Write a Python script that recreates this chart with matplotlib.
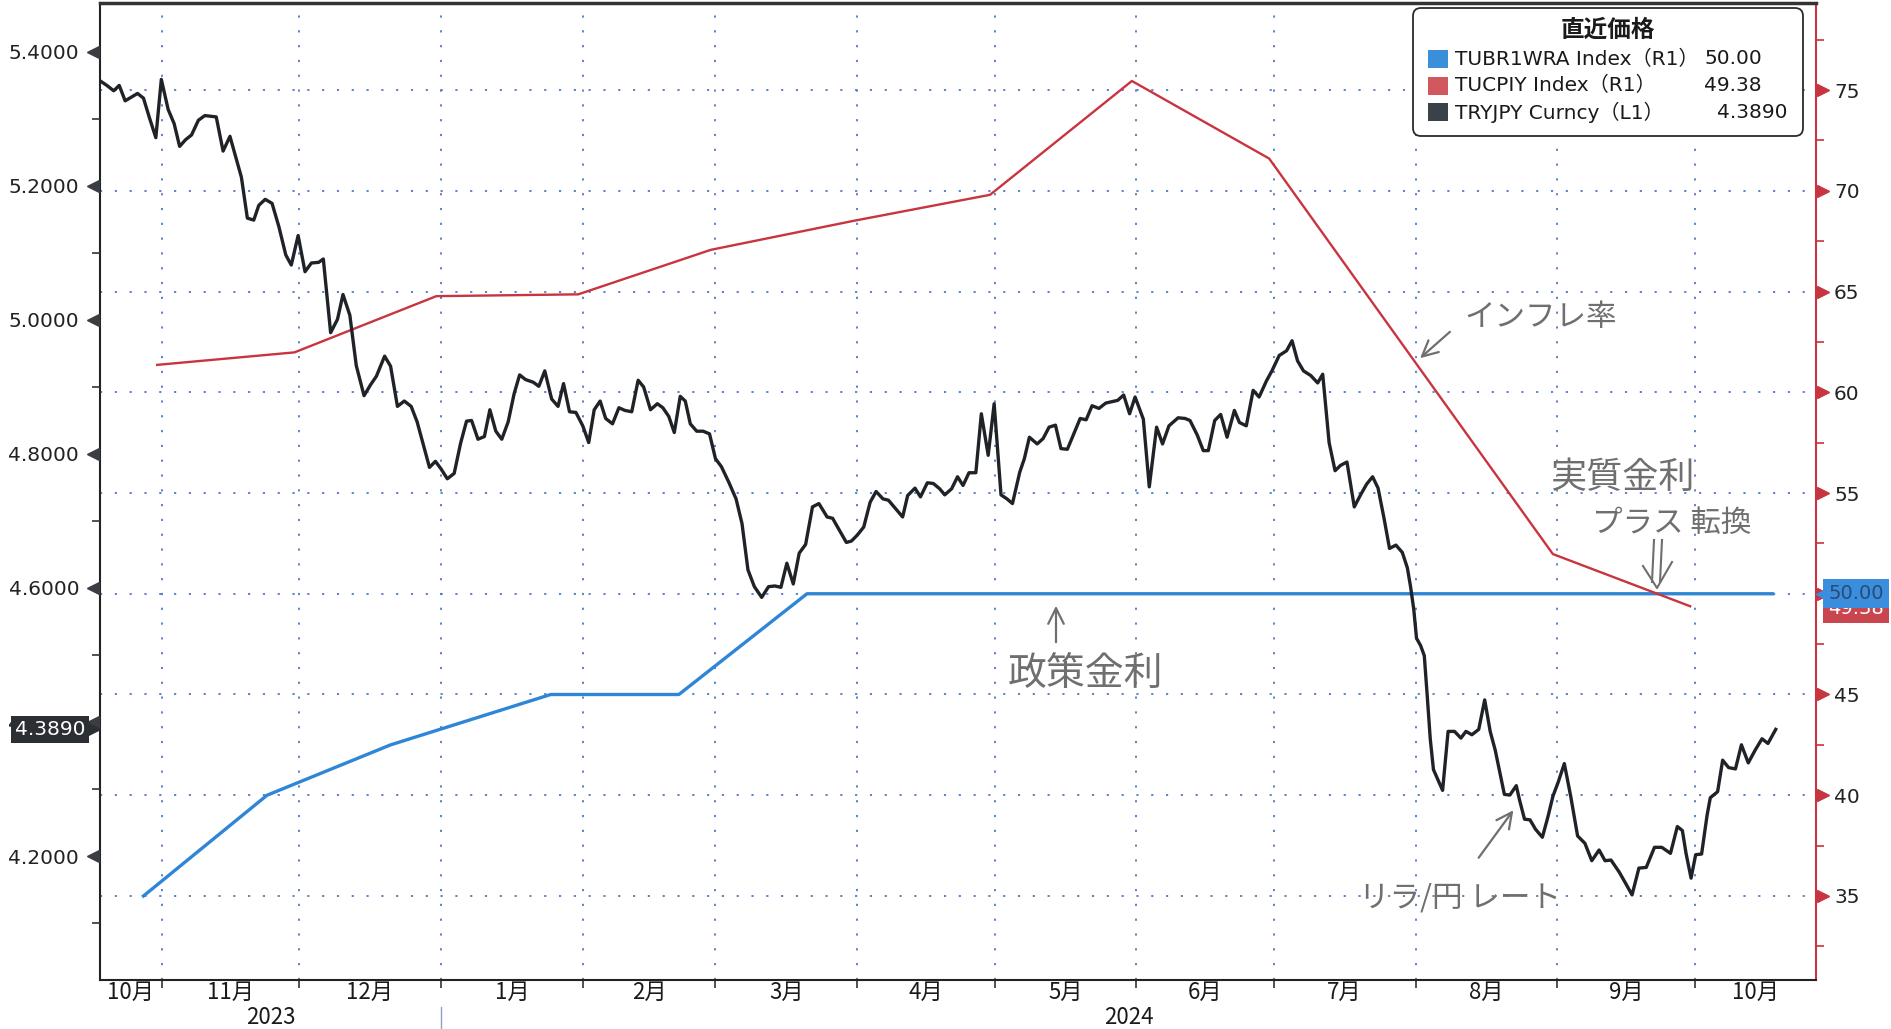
import matplotlib
matplotlib.use('Agg')
import matplotlib.pyplot as plt
import matplotlib.dates as mdates
import matplotlib.transforms as mtransforms
from matplotlib.patches import FancyBboxPatch, Rectangle
from matplotlib.ticker import (MultipleLocator, FormatStrFormatter, FixedLocator,
                               FixedFormatter, NullFormatter)
import numpy as np

plt.rcParams['font.family'] = ['DejaVu Sans', 'Noto Sans CJK JP']

# TUBR1WRA Index (policy rate, R1)
rate_dates = ['2023-10-28', '2023-11-24', '2023-12-21', '2024-01-25',
              '2024-02-22', '2024-03-21', '2024-10-18']
rate_vals = [35.0, 40.0, 42.5, 45.0, 45.0, 50.0, 50.0]

# TUCPIY Index (CPI yoy, R1), month end
cpi_dates = ['2023-10-31', '2023-11-30', '2023-12-31', '2024-01-31', '2024-02-29',
             '2024-03-31', '2024-04-30', '2024-05-31', '2024-06-30', '2024-07-31',
             '2024-08-31', '2024-09-30']
cpi_vals = [61.36, 61.98, 64.77, 64.86, 67.07, 68.50, 69.80, 75.45, 71.60, 61.78,
            51.97, 49.38]

# TRYJPY Curncy (L1), x = days from 2023-11-01
fx_base = '2023-11-01'
fx_day = [
    -13.3, -12.0, -10.5, -9.3, -8.0, -5.3, -4.0, -2.8, -1.3, -0.1,
    1.4, 2.7, 3.9, 5.2, 6.5, 8.0, 9.4, 11.9, 13.4, 14.9,
    16.1, 17.4, 18.7, 20.1, 21.2, 22.6, 24.1, 25.6, 27.1, 28.3,
    29.8, 31.3, 32.7, 34.3, 35.3, 36.9, 38.4, 39.6, 41.1, 42.5,
    44.2, 45.6, 46.9, 48.7, 50.0, 51.5, 53.0, 54.5, 55.8, 57.2,
    58.5, 59.8, 61.0, 62.4, 63.9, 65.3, 66.6, 67.7, 69.1, 70.5,
    71.7, 73.0, 74.3, 75.7, 77.0, 78.2, 79.5, 81.2, 82.4, 83.7,
    85.2, 86.6, 87.8, 89.1, 90.5, 92.0, 93.3, 94.5, 95.8, 97.0,
    98.5, 99.9, 101.2, 102.7, 104.1, 105.3, 106.8, 108.3, 109.5, 110.8,
    112.0, 113.3, 114.4, 115.5, 116.9,
    118.3, 119.7, 121.0, 122.3, 123.9, 125.5, 126.8, 128.1, 129.5, 131.1,
    132.6, 134.0, 135.3, 136.6, 138.0, 139.3, 140.7, 142.2, 143.6, 145.4,
    146.6, 148.1, 149.6, 150.7, 152.0, 153.4, 154.8, 156.1, 157.6, 158.8,
    160.3, 161.9, 163.0, 164.6, 165.8, 167.3, 168.6, 170.0, 171.1, 172.6,
    173.9, 175.1, 176.4, 177.9, 179.1, 180.6, 181.9, 183.4, 184.7, 185.9,
    187.5, 188.5, 189.6, 191.3, 192.6, 193.9, 195.3, 196.5, 197.9, 199.3,
    200.7, 202.0, 203.3, 204.8, 206.3, 207.6, 208.9, 210.2, 211.5, 212.7,
    214.5, 215.8, 217.4, 218.7, 220.1, 222.1, 223.6, 224.7, 226.3, 227.6,
    228.7, 230.1, 231.4, 232.8, 234.4, 235.5, 237.0, 238.5, 239.8, 241.4,
    242.6, 244.2, 245.8, 247.0, 248.2, 249.5, 251.1, 252.6, 253.7,
    255.1, 256.4, 257.6, 259.0, 260.6, 261.9, 263.3, 264.6, 265.8, 267.1,
    268.3, 269.7, 271.1, 272.2, 272.9, 273.6, 274.2, 275.1, 275.9, 276.5,
    277.2, 277.9, 278.8, 279.9, 281.1, 282.5, 283.9, 285.0, 286.3, 287.8,
    289.1, 290.3, 291.4, 292.1, 293.4, 294.6, 296.0, 296.7, 297.8, 299.0,
    300.2, 301.7, 302.9, 304.0, 305.2, 306.5, 307.9, 309.4, 311.0, 312.5,
    314.1, 315.4, 316.7, 318.5, 320.0, 321.3, 322.8, 324.4, 326.2, 327.8,
    329.7, 331.2, 332.3, 333.1, 334.2, 335.2, 336.5, 337.7, 338.4, 340.0,
    341.1, 342.4, 343.9, 345.2, 346.7, 348.2, 349.7, 351.0, 352.7,
]
fx_vals = [
    5.356, 5.350, 5.342, 5.350, 5.327, 5.338, 5.331, 5.304, 5.272, 5.359,
    5.314, 5.293, 5.259, 5.269, 5.276, 5.298, 5.305, 5.303, 5.252, 5.274,
    5.245, 5.213, 5.152, 5.149, 5.171, 5.180, 5.174, 5.139, 5.097, 5.082,
    5.126, 5.072, 5.085, 5.086, 5.091, 4.981, 5.001, 5.038, 5.007, 4.932,
    4.887, 4.903, 4.916, 4.946, 4.931, 4.871, 4.879, 4.871, 4.848, 4.813,
    4.780, 4.789, 4.778, 4.763, 4.771, 4.816, 4.849, 4.850, 4.822, 4.826,
    4.866, 4.834, 4.822, 4.848, 4.890, 4.918, 4.911, 4.907, 4.901, 4.924,
    4.882, 4.871, 4.905, 4.863, 4.862, 4.842, 4.817, 4.866, 4.879, 4.853,
    4.845, 4.869, 4.865, 4.863, 4.910, 4.900, 4.866, 4.875, 4.869, 4.856,
    4.832, 4.886, 4.879, 4.845, 4.834,
    4.834, 4.830, 4.793, 4.781, 4.758, 4.733, 4.696, 4.627, 4.602, 4.586,
    4.602, 4.603, 4.601, 4.637, 4.606, 4.652, 4.665, 4.721, 4.726, 4.706,
    4.704, 4.686, 4.668, 4.670, 4.679, 4.691, 4.728, 4.744, 4.733, 4.731,
    4.719, 4.706, 4.738, 4.749, 4.736, 4.757, 4.756, 4.748, 4.739, 4.748,
    4.766, 4.753, 4.772, 4.772, 4.860, 4.798, 4.875, 4.739, 4.733, 4.726,
    4.773, 4.793, 4.825, 4.815, 4.823, 4.840, 4.843, 4.808, 4.807, 4.830,
    4.853, 4.851, 4.872, 4.868, 4.876, 4.878, 4.880, 4.888, 4.860, 4.885,
    4.852, 4.751, 4.840, 4.815, 4.842, 4.854, 4.853, 4.850, 4.828, 4.805,
    4.805, 4.850, 4.859, 4.825, 4.865, 4.847, 4.842, 4.895, 4.885, 4.909,
    4.924, 4.947, 4.954, 4.969, 4.939, 4.924, 4.917, 4.906, 4.919,
    4.817, 4.775, 4.783, 4.788, 4.721, 4.738, 4.755, 4.766, 4.749, 4.704,
    4.659, 4.664, 4.653, 4.630, 4.602, 4.568, 4.525, 4.514, 4.499, 4.443,
    4.375, 4.329, 4.315, 4.298, 4.386, 4.386, 4.376, 4.386, 4.381, 4.389,
    4.433, 4.386, 4.358, 4.335, 4.292, 4.291, 4.305, 4.284, 4.255, 4.254,
    4.240, 4.228, 4.258, 4.289, 4.311, 4.338, 4.289, 4.230, 4.219, 4.193,
    4.209, 4.193, 4.194, 4.176, 4.158, 4.142, 4.182, 4.183, 4.213, 4.213,
    4.204, 4.244, 4.238, 4.204, 4.167, 4.202, 4.203, 4.261, 4.287, 4.296,
    4.343, 4.332, 4.330, 4.366, 4.339, 4.358, 4.375, 4.368, 4.389,
]

month_starts = ['2023-11-01', '2023-12-01', '2024-01-01', '2024-02-01', '2024-03-01',
                '2024-04-01', '2024-05-01', '2024-06-01', '2024-07-01', '2024-08-01',
                '2024-09-01', '2024-10-01']
month_labels = ['10月', '11月', '12月', '1月', '2月', '3月', '4月', '5月', '6月',
                '7月', '8月', '9月', '10月']
year_labels = ['2023', '2024']
year_start = '2024-01-01'

legend_names = ['TUBR1WRA Index（R1）', 'TUCPIY Index（R1）', 'TRYJPY Curncy（L1）']

BLUE = '#2f86d6'
RED = '#c8343f'
BLACK = '#1f2328'
GRID = '#4f78c6'
PENCIL = '#6f6f6f'
CJK = 'Noto Sans CJK JP'

W, H = 1891, 1029
fig = plt.figure(figsize=(W / 100, H / 100), dpi=100)


def fxy(x, y):
    # pixel position in the reference image -> figure fraction
    return x / W, 1 - y / H


L, R, T, B = 100, 1816, 3, 980
ax = fig.add_axes([L / W, 1 - B / H, (R - L) / W, (B - T) / H])  # right scale
ax2 = ax.twinx()                                                   # left scale

base = mdates.datestr2num(fx_base)
fx_x = base + np.array(fx_day)
rate_x = mdates.datestr2num(rate_dates)
cpi_x = mdates.datestr2num(cpi_dates)

ax.plot(rate_x, rate_vals, color=BLUE, lw=2.4, zorder=3)
ax.plot(cpi_x, cpi_vals, color=RED, lw=1.7, zorder=3)
ax2.plot(fx_x, fx_vals, color=BLACK, lw=2.4, zorder=3)

ax.set_xlim(base - 13.5, base + 361.5)
ax.set_ylim(30.83, 79.32)
ax2.set_ylim(4.015, 5.473)

# x axis: ticks at month starts, labels centred in the visible month
starts = mdates.datestr2num(month_starts)
x0, x1 = ax.get_xlim()
edges = np.concatenate([[x0], starts, [x1]])
mids = (edges[:-1] + edges[1:]) / 2
ax.xaxis.set_major_locator(FixedLocator(starts))
ax.xaxis.set_major_formatter(NullFormatter())
ax.xaxis.set_minor_locator(FixedLocator(mids))
ax.xaxis.set_minor_formatter(FixedFormatter(month_labels))
ax.tick_params(axis='x', which='major', length=6, width=1.2, color='#333333')
ax.tick_params(axis='x', which='minor', length=0, pad=1, labelsize=16,
               labelcolor='#1a1a1a')
for lbl in ax.get_xticklabels(minor=True):
    lbl.set_fontfamily(CJK)

ys = mdates.datestr2num(year_start)
for lab, xc in zip(year_labels, [(x0 + ys) / 2, (ys + x1) / 2]):
    ax.annotate(lab, xy=(xc, 0), xycoords=('data', 'axes fraction'),
                xytext=(0, -38), textcoords='offset pixels', ha='center',
                va='center', fontsize=16, family=CJK, color='#1a1a1a')
ax.plot([ys, ys], [-0.028, -0.06], color='#8ea2c4', lw=1,
        transform=ax.get_xaxis_transform(), clip_on=False)

# right axis (R1)
ax.yaxis.tick_right()
ax.yaxis.set_major_locator(MultipleLocator(5))
ax.yaxis.set_minor_locator(MultipleLocator(2.5))
ax.tick_params(axis='y', which='major', right=True, left=False, length=0, pad=13,
               labelsize=14.5, labelcolor='#222222')
ax.tick_params(axis='y', which='minor', right=True, left=False, length=6,
               width=1.2, color=RED)

# left axis (L1)
ax2.yaxis.tick_left()
ax2.yaxis.set_major_locator(MultipleLocator(0.2))
ax2.yaxis.set_major_formatter(FormatStrFormatter('%.4f'))
ax2.yaxis.set_minor_locator(MultipleLocator(0.1))
ax2.tick_params(axis='y', which='major', left=True, right=False, length=0, pad=15,
                labelsize=14.5, labelcolor='#222222')
ax2.tick_params(axis='y', which='minor', left=True, right=False, length=6,
                width=1.2, color='#333333')

for s in ax2.spines.values():
    s.set_visible(False)
for k in ['left', 'bottom']:
    ax.spines[k].set_color('#222222')
    ax.spines[k].set_linewidth(1.5)
ax.spines['top'].set_color('#333333')
ax.spines['top'].set_linewidth(2.5)
ax.spines['right'].set_color(RED)
ax.spines['right'].set_linewidth(1.5)

ax.set_axisbelow(True)
ax.grid(True, which='major', axis='both', color=GRID, lw=1.3,
        linestyle=(0, (1.2, 7)))

# bloomberg-style triangle tick marks
lt = [v for v in ax2.get_yticks() if 4.015 < v < 5.473]
rt = [v for v in ax.get_yticks() if 30.83 < v < 79.32]
tl = mtransforms.offset_copy(ax2.get_yaxis_transform(), fig=fig, x=-7, y=0, units='dots')
tr = mtransforms.offset_copy(ax.get_yaxis_transform(), fig=fig, x=7, y=0, units='dots')
ax2.plot(np.zeros(len(lt)), lt, ls='none', marker='<', ms=9, color='#3a3d42',
         transform=tl, clip_on=False)
ax.plot(np.ones(len(rt)), rt, ls='none', marker='>', ms=9, color=RED,
        transform=tr, clip_on=False)

# last value tags
ax2.annotate(f'{fx_vals[-1]:.4f}', xy=(0, fx_vals[-1]), xycoords=('axes fraction', 'data'),
             xytext=(-50, 0), textcoords='offset pixels', ha='center', va='center',
             fontsize=14.5, color='white', annotation_clip=False, zorder=10,
             bbox=dict(boxstyle='square,pad=0.18', fc='#2b2f33', ec='none'))
ax2.plot([0], [fx_vals[-1]], ls='none', marker='>', ms=8, color='#2b2f33',
         transform=mtransforms.offset_copy(ax2.get_yaxis_transform(), fig=fig,
                                           x=-6, y=0, units='dots'),
         clip_on=False, zorder=11)

ax.annotate(f'{cpi_vals[-1]:.2f}', xy=(1, cpi_vals[-1]), xycoords=('axes fraction', 'data'),
            xytext=(40, -2), textcoords='offset pixels', ha='center', va='center',
            fontsize=14, color='white', annotation_clip=False, zorder=10,
            bbox=dict(boxstyle='square,pad=0.25', fc='#c9464f', ec='none'))
ax.annotate(f'{rate_vals[-1]:.2f}', xy=(1, rate_vals[-1]), xycoords=('axes fraction', 'data'),
            xytext=(40, 0), textcoords='offset pixels', ha='center', va='center',
            fontsize=14, color='#2b4a72', annotation_clip=False, zorder=11,
            bbox=dict(boxstyle='square,pad=0.25', fc='#3b8ede', ec='none'))
ax.plot([1], [rate_vals[-1]], ls='none', marker='<', ms=8, color='#3b8ede',
        transform=mtransforms.offset_copy(ax.get_yaxis_transform(), fig=fig,
                                          x=6, y=0, units='dots'),
        clip_on=False, zorder=12)

# legend box
box = FancyBboxPatch((1413, H - 136), 390, 128, boxstyle='round,pad=0,rounding_size=8',
                     transform=mtransforms.IdentityTransform(), fc='white',
                     ec='#2a2a2a', lw=1.3)
fig.add_artist(box)
fig.text(*fxy(1608, 30), '直近価格', ha='center', va='center', fontsize=17,
         fontweight='bold', family=CJK, color='#1a1a1a')
legend_values = [f'{rate_vals[-1]:.2f}', f'{cpi_vals[-1]:.2f}', f'{fx_vals[-1]:.4f}']
legend_colors = ['#3a8fd8', '#d1585f', '#3b4148']
for i, (name, val, col) in enumerate(zip(legend_names, legend_values, legend_colors)):
    yc = 59 + i * 26.5
    fig.add_artist(Rectangle((1428, H - yc - 9), 20, 18, fc=col, ec='none',
                             transform=mtransforms.IdentityTransform()))
    fig.text(*fxy(1455, yc), name, ha='left', va='center', fontsize=14.5,
             color='#1a1a1a')
    fig.text(*fxy(1762 if i < 2 else 1788, yc), val, ha='right', va='center',
             fontsize=14.5, color='#1a1a1a')

# handwritten notes
fig.text(*fxy(1541, 318), 'インフレ率', ha='center', va='center', fontsize=22,
         family=CJK, color=PENCIL)
fig.text(*fxy(1622, 478), '実質金利', ha='center', va='center', fontsize=26,
         family=CJK, color=PENCIL)
fig.text(*fxy(1672, 523), 'プラス 転換', ha='center', va='center', fontsize=22,
         family=CJK, color=PENCIL)
fig.text(*fxy(1085, 674), '政策金利', ha='center', va='center', fontsize=28,
         family=CJK, color=PENCIL)
fig.text(*fxy(1460, 898), 'リラ/円 レート', ha='center', va='center', fontsize=22,
         family=CJK, color=PENCIL)

arrow = dict(arrowstyle='->', color=PENCIL, lw=1.6, mutation_scale=28)
for tail, tip in [((1452, 330), (1418, 360)), ((1056, 645), (1056, 603)),
                  ((1477, 860), (1515, 808))]:
    ax.annotate('', xy=fxy(*tip), xycoords='figure fraction',
                xytext=fxy(*tail), textcoords='figure fraction', arrowprops=arrow)

# double arrow pointing to the crossing
for dx in (0, 8):
    fig.add_artist(plt.Line2D([fxy(1654 + dx, 0)[0], fxy(1652 + dx, 0)[0]],
                              [fxy(0, 540)[1], fxy(0, 582)[1]], color=PENCIL, lw=1.5))
fig.add_artist(plt.Line2D([fxy(1643, 0)[0], fxy(1657, 0)[0], fxy(1672, 0)[0]],
                          [fxy(0, 566)[1], fxy(0, 588)[1], fxy(0, 562)[1]],
                          color=PENCIL, lw=1.5))

fig.savefig('out.png', dpi=100)
